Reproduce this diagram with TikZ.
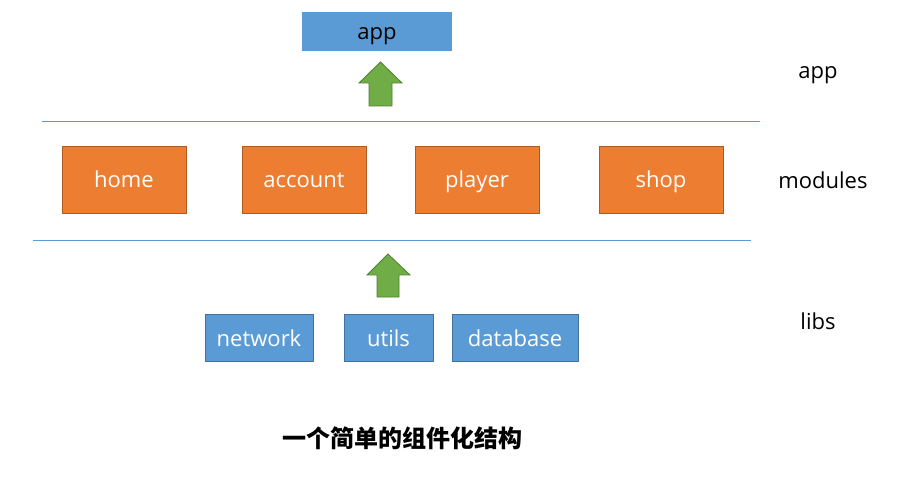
\documentclass[tikz,border=0pt]{standalone}
\usepackage{fontspec}
\setmainfont{Open Sans}
\newfontfamily\cjk{Noto Sans CJK SC}
\definecolor{bfill}{HTML}{5B9BD5}
\definecolor{bline}{HTML}{41719C}
\definecolor{ofill}{HTML}{ED7D31}
\definecolor{oline}{HTML}{AE5A21}
\definecolor{gfill}{HTML}{70AD47}
\definecolor{gline}{HTML}{507E32}
\tikzset{
  lbl/.style={font=\fontsize{22}{24}\selectfont, inner sep=0pt, text height=17pt, text depth=0pt},
  modbox/.style={lbl, fill=ofill, draw=oline, line width=0.8pt, text=white, minimum width=124pt, minimum height=67pt},
  libbox/.style={lbl, fill=bfill, draw=bline, line width=0.8pt, text=white, minimum height=47pt},
  appbox/.style={lbl, fill=bfill, text=black, minimum width=150pt, minimum height=39pt},
  sep/.style={draw=bfill, line width=1pt},
  uparrow/.style={fill=gfill, draw=gline, line width=0.8pt},
  layer/.style={lbl, text=black}
}
\begin{document}
\begin{tikzpicture}[x=1pt,y=-1pt]
\useasboundingbox (0,0) rectangle (908,481);
\node[appbox] (app) at (377,31.5) {app};
\draw[uparrow] (380.5,62) -- (402,83) -- (392,83) -- (392,106) -- (369,106) -- (369,83) -- (359,83) -- cycle;
\coordinate (l1a) at (42,122);
\coordinate (l1b) at (760,122);
\draw[sep] (l1a) -- (l1b);
\node[modbox] (home) at (124,179.5) {home};
\node[modbox] (account) at (304,179.5) {account};
\node[modbox] (player) at (477,179.5) {player};
\node[modbox] (shop) at (661,179.5) {shop};
\coordinate (l2a) at (33,241);
\coordinate (l2b) at (751,241);
\draw[sep] (l2a) -- (l2b);
\draw[uparrow] (388,254) -- (410,275) -- (399,275) -- (399,297) -- (377,297) -- (377,275) -- (367,275) -- cycle;
\node[libbox, minimum width=108pt] (network) at (259,337.5) {network};
\node[libbox, minimum width=89pt] (utils) at (388.5,337.5) {utils};
\node[libbox, minimum width=126pt] (database) at (515,337.5) {database};
\node[layer] (lapp) at (818,70.5) {app};
\node[layer] (lmod) at (823,180.5) {modules};
\node[layer] (llib) at (818,320.5) {libs};
\node[inner sep=0pt, font=\cjk\bfseries\fontsize{24}{28}\selectfont] (title) at (402,438) {一个简单的组件化结构};
\end{tikzpicture}
\end{document}
